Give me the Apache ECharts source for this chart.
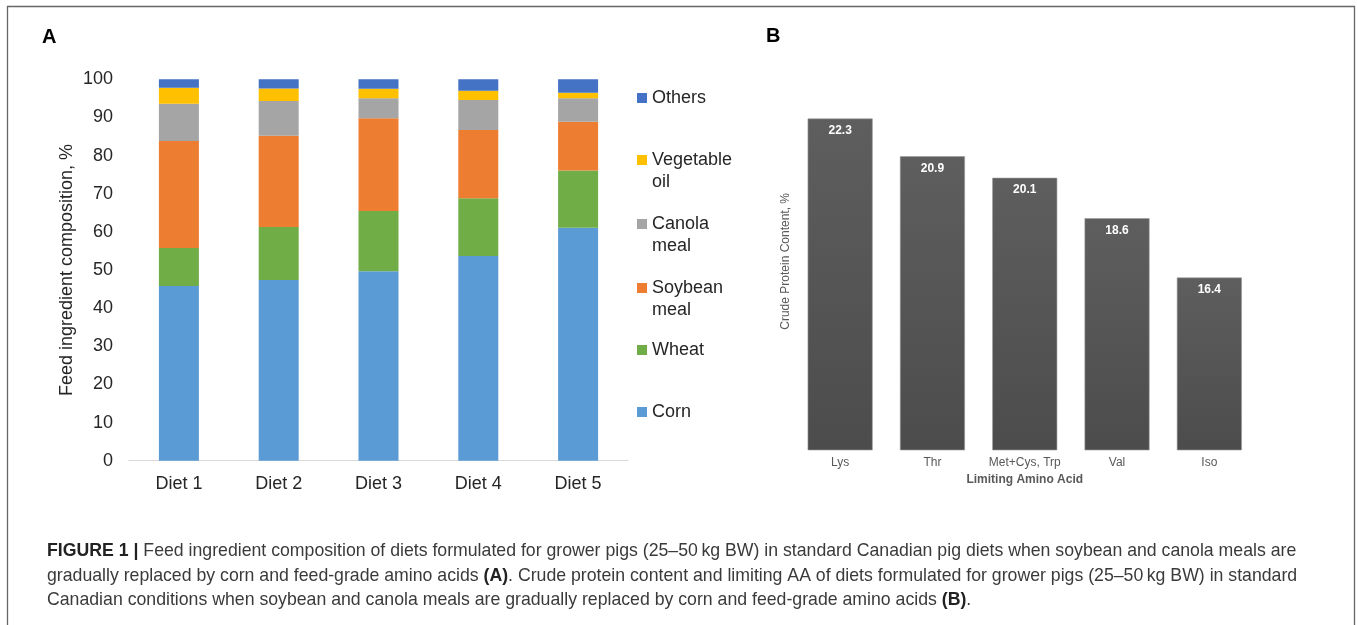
<!DOCTYPE html>
<html>
<head>
<meta charset="utf-8">
<script src="https://cdn.jsdelivr.net/npm/echarts@6/dist/echarts.min.js"></script>
<style>html,body{margin:0;padding:0;background:#fff}#c{width:1358px;height:625px}</style>
</head>
<body>
<div id="c"></div>
<script>
// ---- Panel A data ----
const diets = ['Diet 1', 'Diet 2', 'Diet 3', 'Diet 4', 'Diet 5'];
const corn = [45.8, 47.4, 49.7, 53.7, 61.1];
const wheat = [10.0, 13.9, 15.8, 15.1, 15.0];
const soybeanMeal = [28.0, 23.9, 24.3, 17.9, 12.8];
const canolaMeal = [9.8, 9.1, 5.2, 7.9, 6.1];
const vegetableOil = [4.2, 3.3, 2.5, 2.4, 1.5];
const others = [2.2, 2.4, 2.5, 3.0, 3.5];
const yTicksA = [0, 10, 20, 30, 40, 50, 60, 70, 80, 90, 100];

// ---- Panel B data ----
const aminoAcids = ['Lys', 'Thr', 'Met+Cys, Trp', 'Val', 'Iso'];
const crudeProtein = [22.3, 20.9, 20.1, 18.6, 16.4];

const FONT = '"Liberation Sans", Arial, sans-serif';
const seriesDefs = [
  {name: 'Corn', data: corn, color: '#5B9BD5'},
  {name: 'Wheat', data: wheat, color: '#70AD47'},
  {name: 'Soybean meal', data: soybeanMeal, color: '#ED7D31'},
  {name: 'Canola meal', data: canolaMeal, color: '#A5A5A5'},
  {name: 'Vegetable oil', data: vegetableOil, color: '#FFC000'},
  {name: 'Others', data: others, color: '#4472C4'}
];

// legend layout: name, first line, second line, icon centre y
const legendItems = [
  ['Others', 'Others', '', 98],
  ['Vegetable oil', 'Vegetable', 'oil', 160],
  ['Canola meal', 'Canola', 'meal', 224],
  ['Soybean meal', 'Soybean', 'meal', 288],
  ['Wheat', 'Wheat', '', 350],
  ['Corn', 'Corn', '', 412]
];

const legends = legendItems.map(it => ({
  left: 637, top: it[3] - 11, orient: 'vertical',
  data: [it[0]], itemWidth: 10, itemHeight: 10, itemGap: 0,
  icon: 'rect', selectedMode: false, padding: 0,
  formatter: () => it[1],
  textStyle: {fontFamily: FONT, fontSize: 18, color: '#262626', lineHeight: 22}
}));

const legendSecond = legendItems.filter(it => it[2]).map(it => ({
  type: 'text', left: 652, top: it[3] + 13,
  style: {text: it[2], font: '18px ' + FONT, fill: '#262626'}
}));

const CAP_FS = 17.7;
const captionRich = {b: {fontWeight: 'bold', fontFamily: FONT, fontSize: CAP_FS, fill: '#222'}};
const captionLines = [
  '{b|FIGURE 1 |} Feed ingredient composition of diets formulated for grower pigs (25–50\u2009kg BW) in standard Canadian pig diets when soybean and canola meals are',
  'gradually replaced by corn and feed-grade amino acids {b|(A)}. Crude protein content and limiting AA of diets formulated for grower pigs (25–50\u2009kg BW) in standard',
  'Canadian conditions when soybean and canola meals are gradually replaced by corn and feed-grade amino acids {b|(B)}.'
];
const captionY = [551, 576, 600];
const captionGraphics = captionLines.map((t, i) => ({
  type: 'text', left: 47, top: captionY[i] - 9,
  style: {text: t, fontFamily: FONT, fontSize: CAP_FS, fill: '#3a3a3a', rich: captionRich}
}));

const chart = echarts.init(document.getElementById('c'), null, {renderer: 'canvas'});
chart.setOption({
  backgroundColor: '#fff',
  animation: false,
  title: [
    {text: 'A', left: 42, top: 27, padding: 0, textStyle: {fontFamily: FONT, fontSize: 20, fontWeight: 'bold', color: '#000'}},
    {text: 'B', left: 766, top: 26, padding: 0, textStyle: {fontFamily: FONT, fontSize: 20, fontWeight: 'bold', color: '#000'}}
  ],
  legend: legends,
  grid: [
    {left: 129, top: 79.3, width: 499, height: 381.4},
    {left: 794, top: 72.7, width: 461.5, height: 377.3}
  ],
  xAxis: [
    {type: 'category', gridIndex: 0, data: diets,
      axisLine: {lineStyle: {color: '#D9D9D9', width: 1}}, axisTick: {show: false},
      axisLabel: {fontFamily: FONT, fontSize: 18, color: '#262626', margin: 14, interval: 0}},
    {type: 'category', gridIndex: 1, data: aminoAcids,
      name: 'Limiting Amino Acid', nameLocation: 'middle', nameGap: 24,
      nameTextStyle: {fontFamily: FONT, fontSize: 12, fontWeight: 'bold', color: '#595959'},
      axisLine: {show: false}, axisTick: {show: false},
      axisLabel: {fontFamily: FONT, fontSize: 12, color: '#595959', margin: 7, interval: 0}}
  ],
  yAxis: [
    {type: 'value', gridIndex: 0, min: 0, max: 100, interval: 10,
      name: 'Feed ingredient composition, %', nameLocation: 'middle', nameGap: 53,
      nameTextStyle: {fontFamily: FONT, fontSize: 18, color: '#262626'},
      axisLine: {show: false}, axisTick: {show: false}, splitLine: {show: false},
      axisLabel: {fontFamily: FONT, fontSize: 18, color: '#262626', margin: 16,
        formatter: v => (yTicksA.indexOf(v) >= 0 ? String(v) : '')}},
    {type: 'value', gridIndex: 1, min: 10, max: 24,
      name: 'Crude Protein Content, %', nameLocation: 'middle', nameGap: 2,
      nameTextStyle: {fontFamily: FONT, fontSize: 12, color: '#595959'},
      axisLine: {show: false}, axisTick: {show: false}, splitLine: {show: false},
      axisLabel: {show: false}}
  ],
  series: seriesDefs.map(s => ({
    type: 'bar', name: s.name, stack: 'A', xAxisIndex: 0, yAxisIndex: 0,
    data: s.data, barWidth: 40, itemStyle: {color: s.color}
  })).concat([{
    type: 'bar', name: 'Crude protein', xAxisIndex: 1, yAxisIndex: 1,
    data: crudeProtein, barWidth: 65,
    itemStyle: {
      color: new echarts.graphic.LinearGradient(0, 0, 0, 1, [
        {offset: 0, color: '#5E5E5E'}, {offset: 1, color: '#4C4C4C'}]),
      borderColor: '#9A9A9A', borderWidth: 0.6
    },
    label: {show: true, position: 'insideTop', distance: 6,
      fontFamily: FONT, fontSize: 12, fontWeight: 'bold', color: '#fff',
      formatter: p => p.value.toFixed(1)}
  }]),
  graphic: [
    {type: 'rect', shape: {x: 7.5, y: 6.5, width: 1347, height: 700},
      style: {fill: null, stroke: '#666', lineWidth: 1.3}, silent: true}
  ].concat(legendSecond, captionGraphics)
});
</script>
</body>
</html>
